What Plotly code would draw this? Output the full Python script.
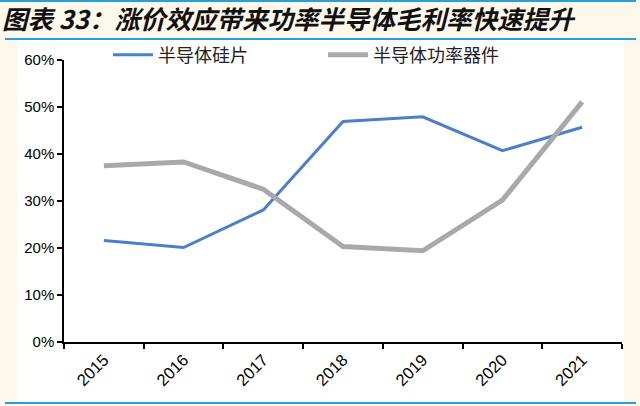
import plotly.graph_objects as go

years = ["2015", "2016", "2017", "2018", "2019", "2020", "2021"]
wafer = [0.216, 0.201, 0.281, 0.469, 0.479, 0.407, 0.457]
power_device = [0.375, 0.383, 0.325, 0.203, 0.194, 0.302, 0.511]
y_ticks = [0, 0.1, 0.2, 0.3, 0.4, 0.5, 0.6]
y_tick_text = ["0%", "10%", "20%", "30%", "40%", "50%", "60%"]
title_text = "图表 33：涨价效应带来功率半导体毛利率快速提升"

W, H = 640, 406
L, R, T, B = 64, 18, 60, 64
PW, PH = W - L - R, H - T - B

def px(x):
    return (x - L) / PW

def py(y):
    return (H - B - y) / PH

CREAM = "#fdf8ec"
BLUE_RULE = "#25a0da"

fig = go.Figure()
fig.add_trace(go.Scatter(x=years, y=wafer, mode="lines", name="半导体硅片",
                         line=dict(color="#4a7fcb", width=3)))
fig.add_trace(go.Scatter(x=years, y=power_device, mode="lines", name="半导体功率器件",
                         line=dict(color="#a9a9a9", width=5)))

shapes = [
    dict(type="rect", xref="paper", yref="paper", x0=px(17), x1=px(624), y0=py(401), y1=py(40),
         fillcolor="white", line=dict(width=0), layer="below"),
    dict(type="line", xref="paper", yref="paper", x0=px(0), x1=px(636), y0=py(1), y1=py(1),
         line=dict(color=BLUE_RULE, width=2)),
    dict(type="line", xref="paper", yref="paper", x0=px(5), x1=px(636), y0=py(39), y1=py(39),
         line=dict(color=BLUE_RULE, width=2)),
    dict(type="line", xref="paper", yref="paper", x0=px(5), x1=px(636), y0=py(403), y1=py(403),
         line=dict(color=BLUE_RULE, width=2)),
]

fig.update_layout(
    width=W, height=H,
    margin=dict(l=L, r=R, t=T, b=B, autoexpand=False),
    paper_bgcolor=CREAM,
    plot_bgcolor="white",
    shapes=shapes,
    showlegend=True,
    legend=dict(orientation="h", x=px(108), y=py(55), xanchor="left", yanchor="middle",
                bgcolor="rgba(0,0,0,0)", font=dict(family="Noto Sans CJK SC", size=18, color="#222222"),
                entrywidth=160, entrywidthmode="pixels", itemwidth=40),
    annotations=[dict(text="<b><i>" + title_text + "</i></b>", xref="paper", yref="paper",
                      x=px(0), y=py(18), xanchor="left", yanchor="middle", showarrow=False,
                      font=dict(family="Noto Sans CJK SC", size=25.5, color="#111111"))],
    xaxis=dict(type="category", range=[-0.5, 6.5], showline=True, linecolor="black", linewidth=1.5,
               ticks="outside", ticklen=5, tickcolor="black", tickwidth=1.5,
               tickson="boundaries", tickangle=-45, showgrid=False, zeroline=False,
               tickfont=dict(family="Liberation Sans", size=16.5, color="black")),
    yaxis=dict(range=[0, 0.6], tickvals=y_ticks, ticktext=y_tick_text,
               showline=True, linecolor="black", linewidth=1.5,
               ticks="outside", ticklen=5, tickcolor="black", tickwidth=1.5,
               showgrid=False, zeroline=False,
               tickfont=dict(family="Liberation Sans", size=15, color="black")),
)

fig.write_html("out.html", config={"displayModeBar": False},
               post_script="document.body.style.margin='0';")
